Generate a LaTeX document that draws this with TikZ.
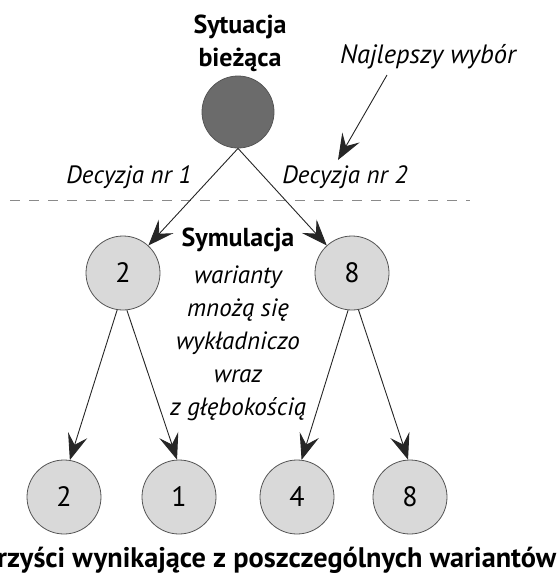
\documentclass[tikz,border=0pt]{standalone}
\usepackage{fontspec}
\setmainfont{PT Sans}
\usetikzlibrary{arrows.meta}
\definecolor{rootfill}{HTML}{6B6B6B}
\definecolor{leaffill}{HTML}{D9D9D9}
\definecolor{edge}{HTML}{555555}
\definecolor{dash}{HTML}{8A8A8A}
\begin{document}
\begin{tikzpicture}[x=1pt,y=-1pt,
  root/.style={circle,draw=edge,fill=rootfill,minimum size=72pt,inner sep=0pt,line width=0.8pt},
  leaf/.style={circle,draw=edge,fill=leaffill,minimum size=74pt,inner sep=0pt,line width=0.8pt,font=\fontsize{28}{28}\selectfont},
  lbl/.style={font=\fontsize{25}{28}\selectfont\itshape},
  ttl/.style={font=\fontsize{26}{33}\selectfont\bfseries, align=center},
  sim/.style={font=\fontsize{25}{33}\selectfont\itshape, align=center},
  arr/.style={-{Stealth[length=26pt,width=20pt,inset=10pt]}, line width=0.9pt, draw=black!85},
  sep/.style={draw=dash, line width=1pt, dash pattern=on 10pt off 9pt}
]
\useasboundingbox (0,0) rectangle (558,579);
\clip (0,0) rectangle (558,579);
% nodes
\node[root] (s) at (238,112) {};
\node[leaf] (c1) at (123,273) {2};
\node[leaf] (c2) at (352,273) {8};
\node[leaf] (g1) at (64,497) {2};
\node[leaf] (g2) at (179,497) {1};
\node[leaf] (g3) at (297,497) {4};
\node[leaf] (g4) at (410,497) {8};
% texts
\node[ttl] (title) at (240,43) {Sytuacja\\bieżąca};
\node[lbl, font=\fontsize{26.5}{28}\selectfont\itshape] (best) at (428,57) {Najlepszy wybór};
\node[lbl] (d1) at (129,177) {Decyzja nr 1};
\node[lbl] (d2) at (345,177) {Decyzja nr 2};
\node[ttl] (symt) at (238,240) {Symulacja};
\node[sim] (sim) at (238,343) {warianty\\mnożą się\\wykładniczo\\wraz\\z głębokością};
\node[ttl, font=\fontsize{28.3}{29}\selectfont\bfseries] (gain) at (261,560) {Korzyści wynikające z poszczególnych wariantów};
% separator
\draw[sep] (10,200) -- (470,200);
% connectors
\coordinate (bs) at (387,75);
\coordinate (be) at (338,160);
\draw[arr] (bs) -- (be);
\draw[arr] (s.south) -- (c1);
\draw[arr] (s.south) -- (c2);
\draw[arr] (c1.261) -- (g1.81);
\draw[arr] (c1.276) -- (g2.93);
\draw[arr] (c2.264) -- (g3.83);
\draw[arr] (c2.280) -- (g4.93);
\end{tikzpicture}
\end{document}
